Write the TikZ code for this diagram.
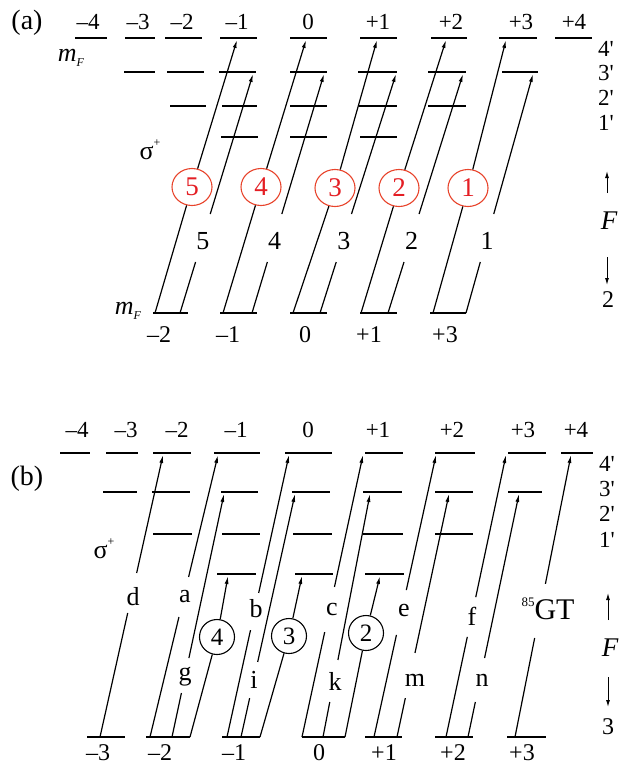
\documentclass[tikz,border=0pt]{standalone}
\usepackage{fontspec}
\setmainfont{Liberation Serif}[Ligatures=TeXOff]
\usetikzlibrary{arrows.meta,calc,shapes.geometric}
\definecolor{redc}{RGB}{232,68,44}
\definecolor{redt}{RGB}{228,30,36}
\newcommand{\myfs}[1]{\fontsize{#1}{#1}\selectfont}
\begin{document}
\begin{tikzpicture}[x=1pt,y=-1pt,
  lvl/.style={line width=2.6pt},
  tr/.style={line width=1.2pt},
  tra/.style={tr,-{Latex[length=8pt,width=4pt]}},
  num/.style={inner sep=0pt,font=\myfs{23}},
  bnum/.style={inner sep=0pt,font=\myfs{24}},
  rlab/.style={inner sep=0pt,font=\myfs{23}},
  ltr/.style={inner sep=0pt,font=\myfs{26}},
  rcirc/.style={ellipse,draw=redc,line width=1.1pt,minimum width=40pt,minimum height=37pt,inner sep=0pt,text=redt,font=\myfs{27}},
  bcirc/.style={circle,draw,line width=1.1pt,minimum size=35pt,inner sep=0pt,font=\myfs{25}},
  farr/.style={line width=1pt,-{Latex[length=7pt,width=4pt]}},
]
\fill[white] (0,0) rectangle (631,766);
\useasboundingbox (0,0) rectangle (631,766);

% ================= panel (a) =================
\node[inner sep=0pt,font=\myfs{28}] (pa) at (27,23) {(a)};
\foreach \x/\t [count=\i] in {88/–4,138/–3,182/–2,237/–1,308/0,378/+1,451/+2,521/+3,574/+4}
  \node[num] (ta\i) at (\x,22) {\t};
\foreach \a/\b in {75/107,125/155,165/202,220/257,290/327,360/397,431/467,499/537,555/592}
  \draw[lvl] (\a,38) -- (\b,38);
\foreach \a/\b in {124/155,167/204,219/256,290/327,358/397,428/466,502/538}
  \draw[lvl] (\a,72) -- (\b,72);
\foreach \a/\b in {170/206,222/257,290/327,359/397,428/466}
  \draw[lvl] (\a,106) -- (\b,106);
\foreach \a/\b in {221/258,290/327,360/397}
  \draw[lvl] (\a,137) -- (\b,137);
\foreach \a/\b in {153/188,220/257,290/327,360/397,430/466}
  \draw[lvl] (\a,313) -- (\b,313);

\node[rlab] (ra4) at (606,49) {4'};
\node[rlab] (ra3) at (606,73) {3'};
\node[rlab] (ra2) at (606,98) {2'};
\node[rlab] (ra1) at (606,123) {1'};

\node[ltr] (mfa) at (71,58) {\itshape m\raisebox{-0.2em}{\myfs{12}\itshape F}};
\node[ltr] (mfb) at (128,311) {\itshape m\raisebox{-0.2em}{\myfs{12}\itshape F}};
\node[ltr] (siga) at (150,150) {σ\raisebox{0.5em}{\myfs{12}+}};

\foreach \n/\sx/\ex/\cx/\cy/\rsx/\rex in {5/155/237/192/187/180/253, 4/223/306/261/187/252/324, 3/293/377/335/188/320/396, 2/361/446/399/188/388/463, 1/433/506/468/188/466/533} {
  \coordinate (as\n) at (\sx,313);
  \coordinate (ae\n) at (\ex,40);
  \node[rcirc] (ac\n) at (\cx,\cy) {\n};
  \draw[tr] (as\n) -- (ac\n);
  \draw[tra] (ac\n) -- (ae\n);
  \coordinate (bs\n) at (\rsx,313);
  \coordinate (be\n) at (\rex,74);
  \coordinate (bg\n) at ($(bs\n)!0.2134!(be\n)$);
  \coordinate (bh\n) at ($(bs\n)!0.414!(be\n)$);
  \node[ltr] (bl\n) at ($(bs\n)!0.301!(be\n)+(1,0)$) {\n};
  \draw[tr] (bs\n) -- (bg\n);
  \draw[tra] (bh\n) -- (be\n);
}

\foreach \x/\t [count=\i] in {159/–2,228/–1,305/0,369/+1,445/+3}
  \node[bnum] (ba\i) at (\x,335) {\t};

\coordinate (fau0) at (607,193); \coordinate (fau1) at (607,171);
\draw[farr] (fau0) -- (fau1);
\node[inner sep=0pt,font=\myfs{27}\itshape] (Fa) at (609,221) {F};
\coordinate (fad0) at (607,257); \coordinate (fad1) at (607,285);
\draw[farr] (fad0) -- (fad1);
\node[bnum] (Fa2) at (608,300) {2};

% ================= panel (b) =================
\node[inner sep=0pt,font=\myfs{28}] (pb) at (27,479) {(b)};
\foreach \x/\t [count=\i] in {77/–4,126/–3,177/–2,236/–1,308/0,378/+1,452/+2,523/+3,576/+4}
  \node[num] (tb\i) at (\x,430) {\t};
\foreach \a/\b in {60/90,106/138,153/191,214/260,285/332,365/403,435/475,508/546,561/593}
  \draw[lvl] (\a,453) -- (\b,453);
\foreach \a/\b in {103/137,152/190,221/258,292/330,363/402,435/473,508/542}
  \draw[lvl] (\a,492) -- (\b,492);
\foreach \a/\b in {153/192,222/260,293/332,363/403,435/473}
  \draw[lvl] (\a,534) -- (\b,534);
\foreach \a/\b in {217/256,295/333,365/404}
  \draw[lvl] (\a,574) -- (\b,574);
\foreach \a/\b in {87/125,146/190,222/260,302/345,365/402,435/473,507/546}
  \draw[lvl] (\a,737) -- (\b,737);

\node[rlab] (rb4) at (607,464) {4'};
\node[rlab] (rb3) at (607,489) {3'};
\node[rlab] (rb2) at (607,514) {2'};
\node[rlab] (rb1) at (607,540) {1'};
\node[ltr] (sigb) at (104,549) {σ\raisebox{0.5em}{\myfs{12}+}};

\foreach \nm/\sx/\ex/\ey/\ta/\tb/\lx/\ly in {d/100/163/455/0.4397/0.5816/133/597, a/150/218/455/0.4255/0.5674/185/597, g/172/224/494/0.181/0.325/185/677, b/227/289/455/0.379/0.511/256/609, i/241/295/494/0.160/0.309/254/680, c/302/363/455/0.372/0.532/332/609, k/323/370/494/0.144/0.317/335/681, e/374/436/455/0.362/0.521/404/610, m/397/449/494/0.160/0.346/415/680, f/446/506/455/0.355/0.496/472/616, n/468/519/494/0.144/0.325/482/680} {
  \coordinate (s-\nm) at (\sx,737);
  \coordinate (e-\nm) at (\ex,\ey);
  \coordinate (p-\nm) at ($(s-\nm)!\ta!(e-\nm)$);
  \coordinate (q-\nm) at ($(s-\nm)!\tb!(e-\nm)$);
  \node[ltr] (l-\nm) at (\lx,\ly) {\nm};
  \draw[tr] (s-\nm) -- (p-\nm);
  \draw[tra] (q-\nm) -- (e-\nm);
}
\coordinate (s-gt) at (515,737);
\coordinate (e-gt) at (571,455);
\coordinate (p-gt) at ($(s-gt)!0.351!(e-gt)$);
\coordinate (q-gt) at ($(s-gt)!0.543!(e-gt)$);
\node[inner sep=0pt,font=\myfs{30}] (l-gt) at (548,609) {\raisebox{0.42em}{\myfs{13}85}GT};
\draw[tr] (s-gt) -- (p-gt);
\draw[tra] (q-gt) -- (e-gt);

\foreach \n/\sx/\ex/\cx/\cy in {4/190/228/217/637, 3/260/302/289/636, 2/345/380/366/633} {
  \coordinate (cs\n) at (\sx,737);
  \coordinate (ce\n) at (\ex,576);
  \node[bcirc] (bc\n) at (\cx,\cy) {\n};
  \draw[tr] (cs\n) -- (bc\n);
  \draw[tra] (bc\n) -- (ce\n);
}

\foreach \x/\t [count=\i] in {98/–3,160/–2,234/–1,319/0,384/+1,453/+2,522/+3}
  \node[bnum] (bb\i) at (\x,753) {\t};

\coordinate (fbu0) at (608,620); \coordinate (fbu1) at (608,593);
\draw[farr] (fbu0) -- (fbu1);
\node[inner sep=0pt,font=\myfs{27}\itshape] (Fb) at (610,648) {F};
\coordinate (fbd0) at (608,677); \coordinate (fbd1) at (608,707);
\draw[farr] (fbd0) -- (fbd1);
\node[bnum] (Fb3) at (608,727) {3};
\end{tikzpicture}
\end{document}
